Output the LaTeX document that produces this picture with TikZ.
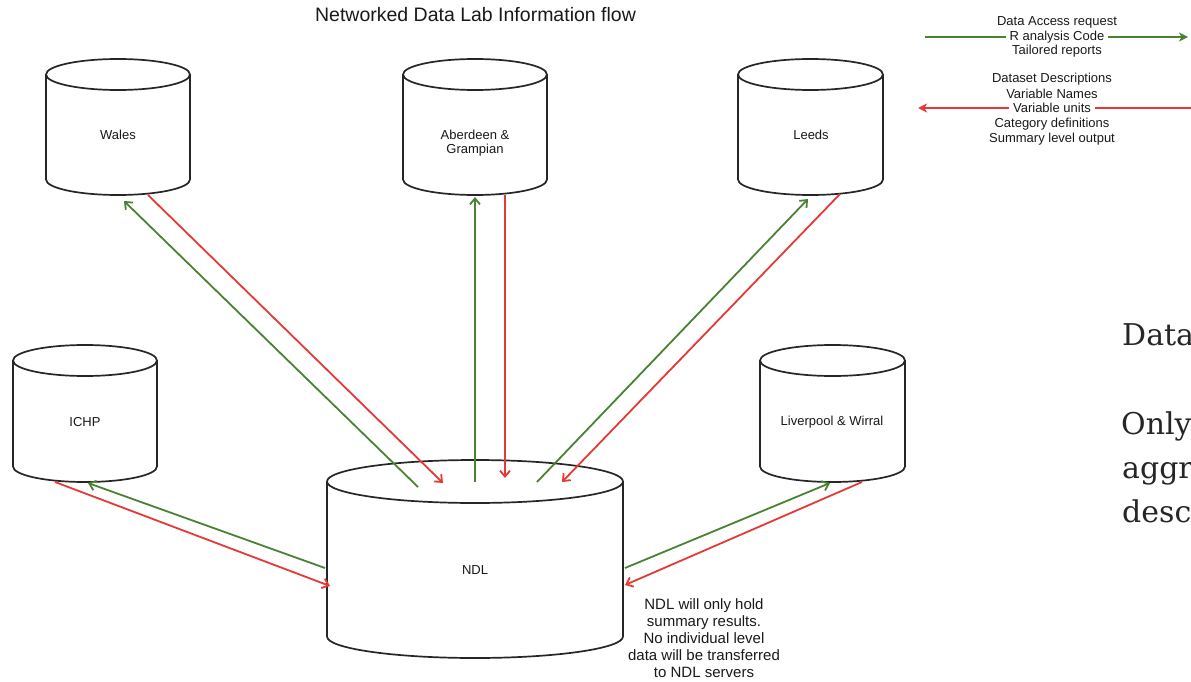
\documentclass[tikz,border=0pt]{standalone}
\usepackage{fontspec}
\setmainfont{Liberation Sans}
\newfontfamily\sideserif{DejaVu Serif}
\usetikzlibrary{arrows.meta}
\definecolor{flowgreen}{HTML}{4A8233}
\definecolor{flowred}{HTML}{E53935}
\definecolor{outline}{HTML}{262626}
\newcommand{\dbcyl}[5]{% cx, half width, top y, bottom y, ry
  \draw[cylline] ({#1-#2},{#3+#5}) -- ({#1-#2},{#4-#5})
     arc[start angle=180,end angle=0,x radius=#2,y radius=#5] -- ({#1+#2},{#3+#5});
  \draw[cylline] (#1,{#3+#5}) ellipse[x radius=#2,y radius=#5];
}
\begin{document}
\begin{tikzpicture}[x=1pt,y=-1pt,
  cylline/.style={draw=outline,line width=1.7pt,fill=white},
  lbl/.style={font=\fontsize{13}{14.5}\selectfont,align=center,inner sep=1pt,text=black!90},
  legtxt/.style={font=\fontsize{13}{14.5}\selectfont,inner sep=1pt,text=black!90},
  gflow/.style={draw=flowgreen,line width=1.8pt,-{Straight Barb[length=6pt,width=10pt]}},
  rflow/.style={draw=flowred,line width=1.8pt,-{Straight Barb[length=6pt,width=10pt]}},
  glegend/.style={draw=flowgreen,line width=1.8pt,-{Stealth[length=9pt,width=9pt,inset=2.5pt]}},
  rlegend/.style={draw=flowred,line width=1.8pt,-{Stealth[length=9pt,width=9pt,inset=2.5pt]}},
  sidetxt/.style={font=\sideserif\fontsize{30}{44}\selectfont,anchor=base west,inner sep=0pt,text=black!85}
]
\useasboundingbox (0,0) rectangle (1191,682);

% title
\node[font=\fontsize{19.5}{22}\selectfont,text=black!90] (title) at (475.5,15) {Networked Data Lab Information flow};

% cylinders
\dbcyl{118}{72}{59}{195}{15.5}
\dbcyl{475}{72}{59}{195}{15.5}
\dbcyl{810.5}{72.5}{59}{195}{15.5}
\dbcyl{85}{72}{345}{482}{15.5}
\dbcyl{832.5}{72.5}{345}{482}{15.5}
\dbcyl{475}{148}{460}{658}{21.5}

% labels
\node[lbl] (wales) at (118,135) {Wales};
\node[lbl] (aberdeen) at (475,143) {Aberdeen \&\\Grampian};
\node[lbl] (leeds) at (811,135) {Leeds};
\node[lbl] (ichp) at (85,422) {ICHP};
\node[lbl] (liverpool) at (832,422) {Liverpool \& Wirral};
\node[lbl] (ndl) at (475,570) {NDL};

% connector end points
\coordinate (ndlW1) at (418,487); \coordinate (walesG) at (124,201);
\coordinate (walesR) at (148,195); \coordinate (ndlW2) at (443,483);
\coordinate (ndlA1) at (475,482); \coordinate (abG) at (475,197);
\coordinate (abR) at (505,195); \coordinate (ndlA2) at (505,478);
\coordinate (ndlL1) at (537,482); \coordinate (leedsG) at (808,199);
\coordinate (leedsR) at (840,194); \coordinate (ndlL2) at (562,482);
\coordinate (ichpR) at (55,482); \coordinate (ndlI2) at (330,586);
\coordinate (ndlI1) at (325,568); \coordinate (ichpG) at (88,483);
\coordinate (ndlV1) at (625,568); \coordinate (livG) at (830,483);
\coordinate (livR) at (862,482); \coordinate (ndlV2) at (625,585);

\draw[gflow] (ndlW1) -- (walesG);
\draw[rflow] (walesR) -- (ndlW2);
\draw[gflow] (ndlA1) -- (abG);
\draw[rflow] (abR) -- (ndlA2);
\draw[gflow] (ndlL1) -- (leedsG);
\draw[rflow] (leedsR) -- (ndlL2);
\draw[rflow] (ichpR) -- (ndlI2);
\draw[gflow] (ndlI1) -- (ichpG);
\draw[gflow] (ndlV1) -- (livG);
\draw[rflow] (livR) -- (ndlV2);

% legend
\coordinate (lgA) at (925,37); \coordinate (lgB) at (1188,37);
\coordinate (lrA) at (1191,108); \coordinate (lrB) at (918,108);
\draw[glegend] (lgA) -- (lgB);
\draw[rlegend] (lrA) -- (lrB);
\node[legtxt] (leg1) at (1057,22.5) {Data Access request};
\node[legtxt,fill=white,inner xsep=4pt] (leg2) at (1057,37) {R analysis Code};
\node[legtxt] (leg3) at (1057,51.5) {Tailored reports};
\node[legtxt] (leg4) at (1052,79) {Dataset Descriptions};
\node[legtxt] (leg5) at (1052,93.5) {Variable Names};
\node[legtxt,fill=white,inner xsep=4pt] (leg6) at (1052,108) {Variable units};
\node[legtxt] (leg7) at (1052,124) {Category definitions};
\node[legtxt] (leg8) at (1052,139.5) {Summary level output};

% NDL note
\node[font=\fontsize{15}{17}\selectfont,align=center,inner sep=0pt,text=black!90] (note) at (704,638)
  {NDL will only hold\\summary results.\\No individual level\\data will be transferred\\to NDL servers};

% cut-off side text
\begin{scope}
\clip (0,0) rectangle (1191,682);
\node[sidetxt] (side1) at (1122,345) {Data};
\node[sidetxt] (side2) at (1121,434) {Only};
\node[sidetxt] (side3) at (1122,478) {aggr};
\node[sidetxt] (side4) at (1122,522) {desc};
\end{scope}
\end{tikzpicture}
\end{document}
